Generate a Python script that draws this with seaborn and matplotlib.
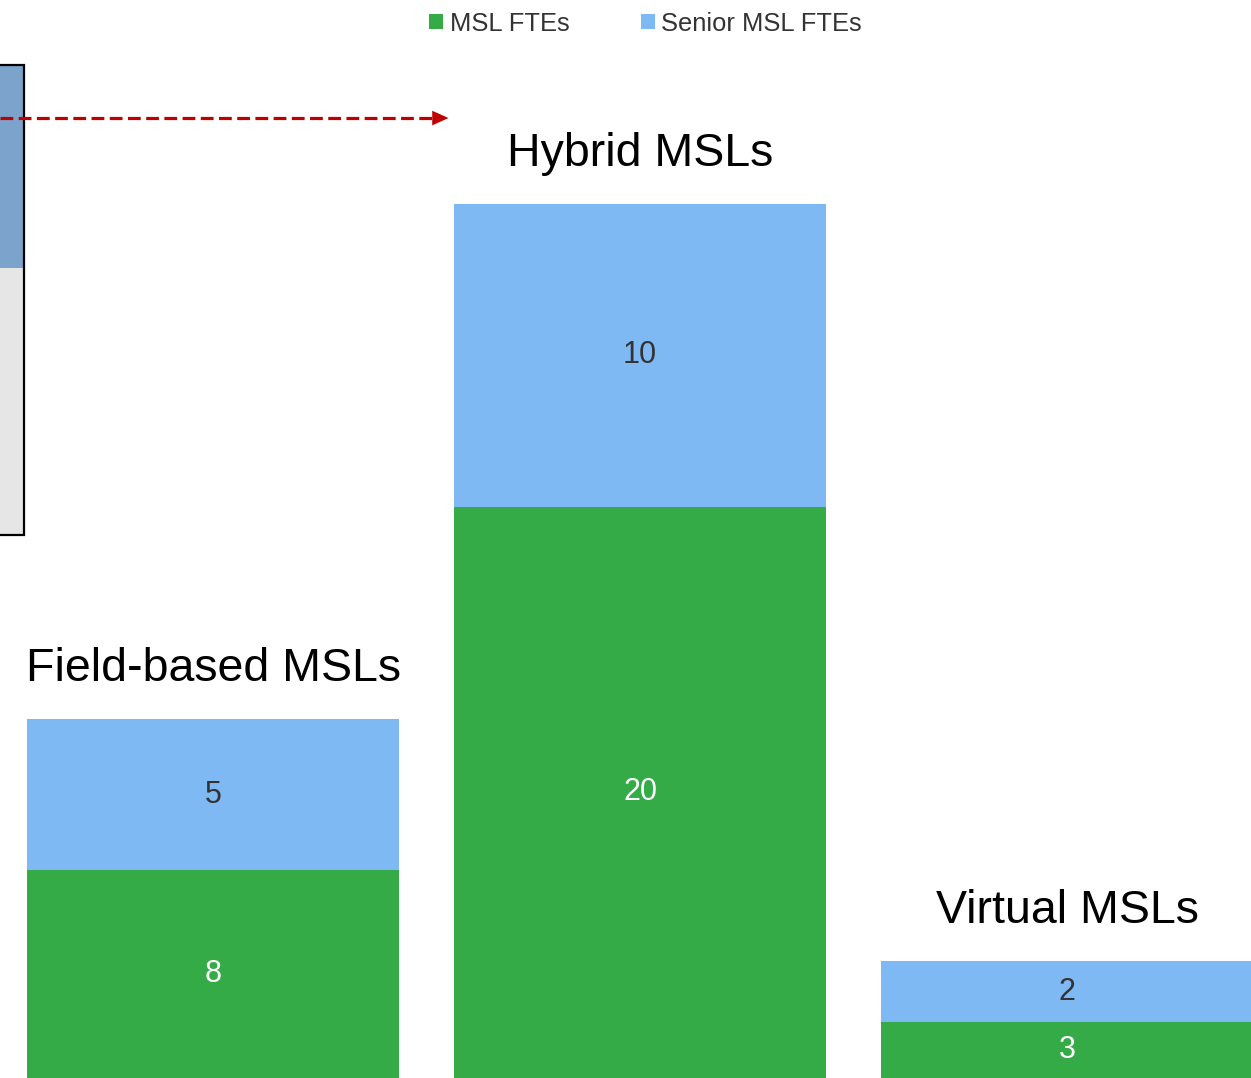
import pandas as pd
import matplotlib
matplotlib.use("Agg")
import matplotlib.pyplot as plt
import seaborn as sns
from matplotlib.patches import Rectangle, Patch, Polygon
from matplotlib.lines import Line2D

# Data
categories = ["Field-based MSLs", "Hybrid MSLs", "Virtual MSLs"]
msl_ftes = [8, 20, 3]
senior_msl_ftes = [5, 10, 2]

green = "#34AB46"
blue = "#7FB9F3"

df = pd.DataFrame({
    "category": categories,
    "MSL FTEs": msl_ftes,
    "Senior MSL FTEs": senior_msl_ftes,
})
df["total"] = df["MSL FTEs"] + df["Senior MSL FTEs"]

sns.set_theme(style="white")
plt.rcParams["font.family"] = ["Liberation Sans", "DejaVu Sans"]

fig = plt.figure(figsize=(12.51, 10.78), dpi=100)
ax = fig.add_axes([0, 0, 1, 1])

# Stacked bars: totals in blue, MSL part drawn over in green
sns.barplot(data=df, x="category", y="total", color=blue, width=0.871,
            saturation=1, linewidth=0, edgecolor="none", ax=ax)
sns.barplot(data=df, x="category", y="MSL FTEs", color=green, width=0.871,
            saturation=1, linewidth=0, edgecolor="none", ax=ax)

ybot, ytop = 1.15, 36.73
ax.set_xlim(-0.499, 2.431)
ax.set_ylim(ybot, ytop)
ax.axis("off")

for i, row in df.iterrows():
    m, t = row["MSL FTEs"], row["total"]
    ax.text(i, (max(ybot, 0) + m) / 2, str(m), ha="center", va="center",
            fontsize=22, color="white")
    ax.text(i, (m + t) / 2, str(row["Senior MSL FTEs"]), ha="center",
            va="center", fontsize=22, color="#333333")
    ax.annotate(row["category"], xy=(i, t), xytext=(0, 36),
                textcoords="offset points", ha="center", va="center",
                fontsize=33.5, color="black")

# Legend
handles = [Patch(facecolor=green, edgecolor="none", label="MSL FTEs"),
           Patch(facecolor=blue, edgecolor="none", label="Senior MSL FTEs")]
fig.legend(handles=handles, loc="center", bbox_to_anchor=(0.516, 0.978),
           ncol=2, frameon=False, fontsize=18.4, labelcolor="#333333",
           handlelength=0.55, handleheight=0.55, handletextpad=0.25,
           columnspacing=2.8)

# Partial box of the linked diagram on the left edge
fig.add_artist(Rectangle((-0.01, 0.7514), 0.0292, 0.1883,
                         transform=fig.transFigure, facecolor="#7BA3CC",
                         edgecolor="none", zorder=3))
fig.add_artist(Rectangle((-0.01, 0.5037), 0.0292, 0.2477,
                         transform=fig.transFigure, facecolor="#E6E6E6",
                         edgecolor="none", zorder=3))
fig.add_artist(Rectangle((-0.01, 0.5037), 0.0292, 0.4360,
                         transform=fig.transFigure, facecolor="none",
                         edgecolor="black", linewidth=1.6, zorder=4))

# Red dashed arrow crossing the box
arrow_y = 0.8905
fig.add_artist(Line2D([0.0, 0.348], [arrow_y, arrow_y],
                      transform=fig.transFigure, color="#C00000",
                      linewidth=2.3, linestyle=(0, (4, 1.7)),
                      solid_capstyle="butt", dash_capstyle="butt", zorder=6))
fig.add_artist(Polygon([(0.3455, arrow_y + 0.0068), (0.3455, arrow_y - 0.0068),
                        (0.3585, arrow_y)], closed=True,
                       transform=fig.transFigure, facecolor="#C00000",
                       edgecolor="none", zorder=6))

fig.savefig("out.png", dpi=100)
